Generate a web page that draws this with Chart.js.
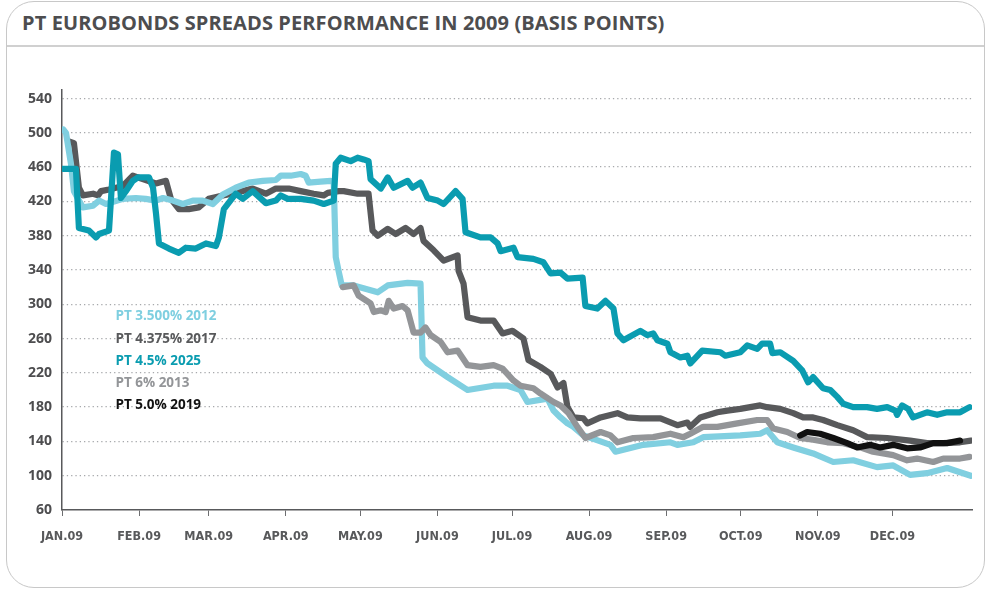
<!DOCTYPE html>
<html>
<head>
<meta charset="utf-8">
<script src="https://cdn.jsdelivr.net/npm/chart.js@4/dist/chart.umd.min.js"></script>
<style>
  html, body { margin: 0; padding: 0; background: #ffffff; }
  #wrap { position: relative; width: 990px; height: 593px; overflow: hidden; background: #fff; }
  #frame { position: absolute; left: 6px; top: 1px; width: 979px; height: 587px;
           border: 1.5px solid #c8c8c8; border-radius: 28px; box-sizing: border-box; }
  #sep { position: absolute; left: 7px; top: 45px; width: 977px; height: 2px; background: #d0d0d0; }
  #title { position: absolute; left: 22px; top: 9px; font-family: 'Open Sans', sans-serif;
           font-weight: 700; font-size: 20px; color: #4d4d4f; letter-spacing: 0.1px; white-space: nowrap; }
  #c { position: absolute; left: 0; top: 0; }
</style>
</head>
<body>
<div id="wrap">
  <div id="frame"></div>
  <div id="sep"></div>
  <div id="title">PT EUROBONDS SPREADS PERFORMANCE IN 2009 (BASIS POINTS)</div>
  <canvas id="c" width="990" height="593"></canvas>
</div>
<script>
// ---- tick labels ----
const monthStarts = [0, 31, 59, 90, 120, 151, 181, 212, 243, 273, 304, 334];
const monthLabels = ['JAN.09','FEB.09','MAR.09','APR.09','MAY.09','JUN.09','JUL.09','AUG.09','SEP.09','OCT.09','NOV.09','DEC.09'];
const yTicks = [60, 100, 140, 180, 220, 260, 300, 340, 380, 420, 460, 500, 540];

// ---- series names ----
const seriesNames = ['PT 3.500% 2012', 'PT 4.375% 2017', 'PT 4.5% 2025', 'PT 6% 2013', 'PT 5.0% 2019'];

// ---- PT 3.500% 2012 (day of year, basis points) ----
const days2012 = [0.5,1.6,3.6,4.8,8.4,12.5,14.9,17.7,24.5,29.7,33.7,37.8,40.6,44.6,48.6,52.6,56.6,60.7,64.7,69.9,75.1,80.8,86,88,92,96,98,99.2,104,108.1,109.3,110.1,111.3,112.5,117.3,127,131,139,144.2,145,147,155.1,163.1,173.6,179.2,184.4,187.2,195.3,197.7,200.5,203.3,205.7,209.7,220.6,222.6,233.8,244.7,247.5,253.9,257.9,272.8,280.8,283.6,287.7,294.1,302.1,310.2,318.2,327.8,334.3,341.1,347.9,356,365.5];
const vals2012 = [504,500,464,432,413,415,421,417,423,424,423,421,424,421,417,421,421,417,428,436,442,444,445,450,450,452,450,442,443,444,442,355,338,322,322,314,322,325,324,238,231,215,200,205,205,200,186,190,176,168,161,157,147,136,128,136,139,136,139,145,147,149,153,139,133,126,116,118,110,112,101,103,109,100];

// ---- PT 4.375% 2017 ----
const days2017 = [2.8,4.8,6.8,8.4,12.5,14.5,15.7,18.9,24.5,28.5,32.5,37.8,41.8,43.8,47,51,55,59,64.7,69.9,76.7,82,86,91.2,96,101.2,105.3,106.9,111.3,113.3,118.9,123.3,124.9,127,131,134.2,138.2,141.4,144.2,145.4,149.5,153.5,159.1,159.5,161.5,163.1,168.3,173.6,177.2,181.2,185.6,187.6,192.4,196.5,199.3,201.7,203.3,205.7,209.7,211.3,216.6,223.4,227.4,232.6,240.7,247.5,251.5,252.7,256.7,263.6,267.6,272.8,280.8,283.6,288.9,294.1,298.1,302.1,306.1,311.8,318.2,323.8,331.9,341.1,347.9,354.4,361.2,365.5];
const vals2017 = [490,488,436,427,429,427,432,434,438,450,446,441,444,423,411,411,413,423,427,430,435,429,435,435,432,429,427,430,432,432,429,429,386,380,388,382,389,382,389,374,363,351,357,339,324,285,281,281,266,269,260,235,227,219,203,208,180,168,167,161,168,173,168,167,167,159,162,157,168,174,176,178,182,180,178,173,168,168,165,159,153,145,144,141,138,138,139,141];

// ---- PT 4.5% 2025 ----
const days2025 = [0.4,5.6,6.8,10.8,13.7,14.9,18.9,20.9,22.5,23.7,25.7,28.5,30.5,35,36.6,37.8,39,43,47,49.8,53.8,57.9,61.9,63.1,65.1,69.9,72.7,76.7,82,86,88,90.8,96,101.2,105.3,109.3,110.1,112.1,116.1,118.9,121.3,123.3,124.1,128.2,131,133.4,139,141,144.2,147,151.1,153.5,158.3,161.1,162.3,168.3,172.4,175.2,176.4,181.6,183.2,189.6,193.6,196.5,200.5,203.3,209.4,210.5,215.3,218.6,221.8,223.4,225.8,232.6,235.4,237.8,239.5,243.5,244.7,248.7,251.5,252.7,257.5,264.8,266.8,272.8,275.6,279.6,281.6,284.8,285.7,288.9,294.1,297.7,300.1,302.1,306.1,309,311.8,314.2,318.2,323.8,327.8,331.9,335.1,335.9,337.9,340.3,342.3,347.9,352,356,361.2,365];
const vals2025 = [458,458,389,386,378,382,386,477,475,424,432,444,448,448,436,406,371,365,360,366,365,371,368,378,411,429,423,432,418,421,427,423,423,421,417,421,464,471,467,471,469,467,446,435,448,436,444,436,442,424,421,417,432,423,384,378,378,371,362,366,355,353,349,336,337,330,331,298,295,304,295,266,258,269,264,266,258,254,244,238,240,231,246,244,240,244,252,248,254,254,243,244,234,223,209,215,202,200,192,184,180,180,178,180,176,171,182,178,168,174,171,174,174,180];

// ---- PT 6% 2013 ----
const days2013 = [112.9,117.3,119.3,124.1,125.4,128.2,130.2,131.4,133.4,137,139,141.4,144.2,146.2,148.3,152.3,155.1,159.1,163.1,168.3,173.6,177.2,181.6,184.4,189.6,192.4,197.7,200.5,203.7,207.3,210.5,216.6,220.6,223.4,229.8,237.8,244.7,249.9,252.7,257.9,263.6,271.6,279.6,283.6,286.1,291.7,296.9,302.1,307.8,314.2,321,326.2,330.3,334.3,339.9,343.9,350.4,354.4,361.2,365];
const vals2013 = [320,322,310,301,291,293,291,304,295,298,293,267,267,273,264,256,244,246,229,227,229,225,211,205,202,196,186,182,173,157,144,151,147,139,144,145,149,145,149,157,157,161,165,165,155,151,144,142,139,138,133,128,126,124,118,120,116,120,120,122];

// ---- PT 5.0% 2019 ----
const days2019 = [296.9,299.7,304.9,310.2,315.8,319.8,325,329,334.3,339.9,345.1,350.4,356,361.2];
const vals2019 = [147,151,149,144,138,133,136,133,136,132,133,138,138,141];

const colors = ['#80cfe0', '#58595b', '#0a9cb0', '#939598', '#111111'];
const legendColors = ['#7fcfe0', '#58595b', '#0a9cb0', '#939598', '#111111'];
const zOrder = [3, 4, 1, 2, 0];

function pts(d, v) { return d.map((x, i) => ({ x: x, y: v[i] })); }
const allDays = [days2012, days2017, days2025, days2013, days2019];
const allVals = [vals2012, vals2017, vals2025, vals2013, vals2019];

const datasets = seriesNames.map((name, i) => ({
  label: name,
  data: pts(allDays[i], allVals[i]),
  borderColor: colors[i],
  backgroundColor: colors[i],
  borderWidth: 6.2,
  pointRadius: 0,
  tension: 0,
  fill: false,
  borderJoinStyle: 'round',
  borderCapStyle: 'round',
  order: zOrder[i]
}));

const legendPlugin = {
  id: 'inlineLegend',
  afterDatasetsDraw(chart) {
    const ctx = chart.ctx;
    const x = chart.scales.x.getPixelForValue(21.5);
    const ys = [316, 339, 361, 383, 405];
    ctx.save();
    ctx.font = '700 13.5px "Open Sans", sans-serif';
    ctx.textBaseline = 'middle';
    ctx.textAlign = 'left';
    chart.data.datasets.forEach((ds, i) => {
      ctx.fillStyle = legendColors[i];
      ctx.fillText(ds.label, x, ys[i]);
    });
    ctx.restore();
  }
};

new Chart(document.getElementById('c'), {
  type: 'line',
  data: { datasets: datasets },
  options: {
    responsive: false,
    animation: false,
    events: [],
    layout: { padding: { left: 0, top: 90, right: 18, bottom: 0 } },
    plugins: { legend: { display: false }, tooltip: { enabled: false }, title: { display: false } },
    scales: {
      x: {
        type: 'linear',
        min: 0,
        max: 366,
        afterBuildTicks(scale) { scale.ticks = monthStarts.map(v => ({ value: v })); },
        afterFit(scale) { scale.height = 83; },
        ticks: {
          autoSkip: false, maxRotation: 0, minRotation: 0, padding: 13,
          color: '#58595b',
          font: { family: "'DejaVu Sans Condensed', 'Liberation Sans Narrow', sans-serif", size: 12.5, weight: 'bold' },
          callback: (v, i) => monthLabels[i]
        },
        grid: { drawOnChartArea: false, drawTicks: true, tickLength: 6, tickColor: '#6d6e70', tickWidth: 1 },
        border: { display: true, color: '#58595b', width: 1.5 }
      },
      y: {
        type: 'linear',
        min: 60,
        max: 550,
        afterBuildTicks(scale) { scale.ticks = yTicks.map(v => ({ value: v })); },
        afterFit(scale) { scale.width = 62; },
        ticks: {
          padding: 10, color: '#4d4d4f',
          font: { family: "'Open Sans', sans-serif", size: 14, weight: 'bold' },
          callback: v => String(v)
        },
        grid: {
          drawTicks: false,
          lineWidth: 1.3,
          color: c => (c.tick && c.tick.value === 60) ? 'rgba(0,0,0,0)' : '#a7a9ac'
        },
        border: { display: true, color: '#58595b', width: 1.5, dash: [1.3, 3] }
      }
    }
  },
  plugins: [legendPlugin]
});
</script>
</body>
</html>
